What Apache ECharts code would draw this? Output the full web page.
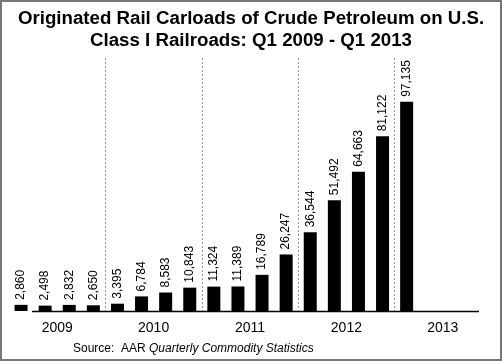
<!DOCTYPE html>
<html>
<head>
<meta charset="utf-8">
<script src="https://cdn.jsdelivr.net/npm/echarts@6/dist/echarts.min.js"></script>
<style>html,body{margin:0;padding:0;background:#fff}#c{width:502px;height:361px}</style>
</head>
<body>
<div id="c"></div>
<script>
const quarters = ['Q1 2009','Q2 2009','Q3 2009','Q4 2009','Q1 2010','Q2 2010','Q3 2010','Q4 2010','Q1 2011','Q2 2011','Q3 2011','Q4 2011','Q1 2012','Q2 2012','Q3 2012','Q4 2012','Q1 2013','Q2 2013','Q3 2013','Q4 2013'];
const carloads = [2860, 2498, 2832, 2650, 3395, 6784, 8583, 10843, 11324, 11389, 16789, 26247, 36544, 51492, 64663, 81122, 97135, null, null, null];
const years = ['2009','2010','2011','2012','2013'];
const titleText = 'Originated Rail Carloads of Crude Petroleum on U.S.\nClass I Railroads: Q1 2009 - Q1 2013';

const FONT = 'Liberation Sans, Arial, sans-serif';
const chart = echarts.init(document.getElementById('c'), null, {renderer: 'canvas'});
chart.setOption({
  animation: false,
  backgroundColor: '#fff',
  textStyle: {fontFamily: FONT},
  title: {
    text: titleText,
    left: 'center',
    top: 3,
    textStyle: {fontFamily: FONT, fontSize: 18.7, fontWeight: 'bold', color: '#000', lineHeight: 22}
  },
  grid: {left: 9, right: 11, top: 58, bottom: 50},
  xAxis: [
    {
      type: 'category',
      data: quarters,
      axisLine: {show: false},
      axisTick: {show: false},
      axisLabel: {show: false},
      splitLine: {show: false}
    },
    {
      type: 'category',
      data: years,
      position: 'bottom',
      boundaryGap: true,
      axisLine: {show: false},
      axisTick: {show: false},
      axisLabel: {show: true, margin: 10, fontSize: 14, color: '#000', fontFamily: FONT},
      splitLine: {show: true, showMinLine: false, showMaxLine: false, lineStyle: {color: '#999', type: [2, 2], width: 1}}
    }
  ],
  yAxis: {type: 'value', min: 0, max: 117500, show: false},
  series: [{
    type: 'bar',
    xAxisIndex: 0,
    data: carloads,
    barWidth: 13,
    itemStyle: {color: '#000'},
    label: {
      show: true,
      position: 'top',
      rotate: 90,
      align: 'left',
      verticalAlign: 'middle',
      distance: 5,
      fontSize: 12,
      color: '#000',
      fontFamily: FONT,
      formatter: p => p.value == null ? '' : p.value.toLocaleString('en-US')
    }
  }],
  graphic: [
    {type: 'line', shape: {x1: 32, y1: 311.5, x2: 479, y2: 311.5}, style: {stroke: '#000', lineWidth: 1.5}, z: 10},
    {type: 'rect', shape: {x: 1, y: 1, width: 500, height: 359}, style: {fill: 'none', stroke: '#777', lineWidth: 2}},
    {
      type: 'text', left: 73, top: 343,
      style: {
        text: '{a|Source:  AAR }{b|Quarterly Commodity Statistics}',
        rich: {
          a: {fontFamily: FONT, fontSize: 12, fill: '#000'},
          b: {fontFamily: FONT, fontSize: 12, fontStyle: 'italic', fill: '#000'}
        }
      }
    }
  ]
});
</script>
</body>
</html>
